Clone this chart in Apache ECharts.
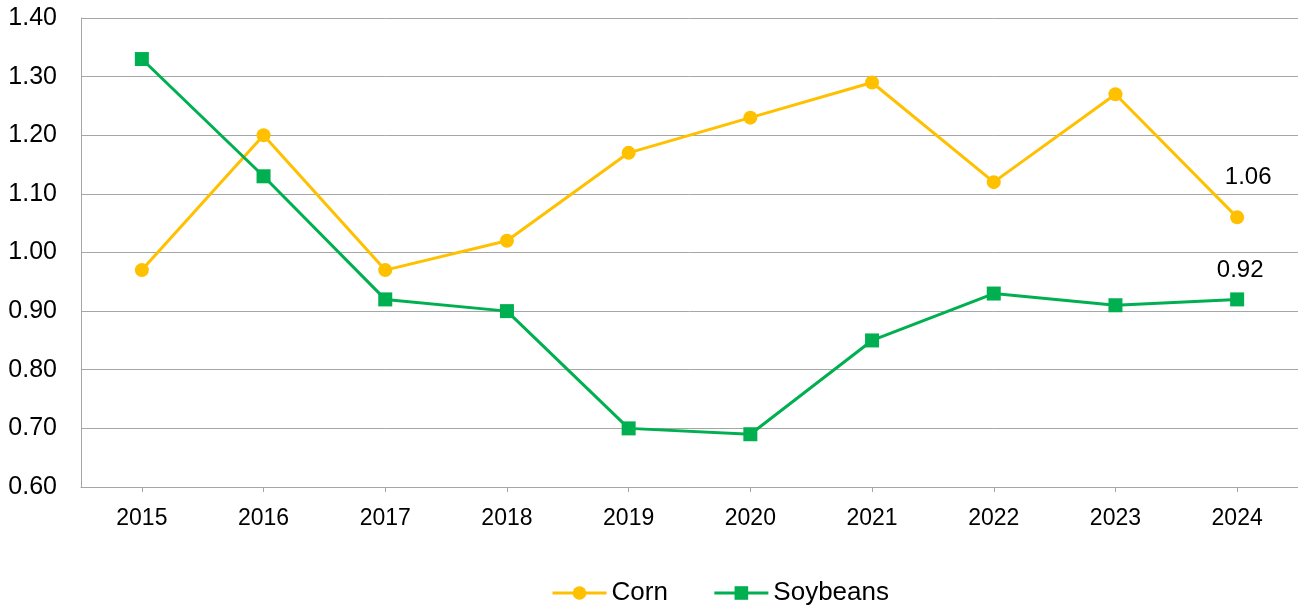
<!DOCTYPE html>
<html><head><meta charset="utf-8">
<script src="https://cdn.jsdelivr.net/npm/echarts@6/dist/echarts.min.js"></script>
<style>html,body{margin:0;padding:0;background:#fff}#c{width:1298px;height:608px}</style>
</head><body><div id="c"></div>
<script>
const years = ['2015','2016','2017','2018','2019','2020','2021','2022','2023','2024'];
const corn = [0.97, 1.20, 0.97, 1.02, 1.17, 1.23, 1.29, 1.12, 1.27, 1.06];
const soybeans = [1.33, 1.13, 0.92, 0.90, 0.70, 0.69, 0.85, 0.93, 0.91, 0.92];
const chart = echarts.init(document.getElementById('c'));
const font = 'Liberation Sans, Arial, sans-serif';
function lastLabel(arr, off){
  return arr.map((v,i)=> i===arr.length-1 ? {value:v, label:{show:true, position:'inside', offset:off, formatter:p=>p.value.toFixed(2), fontSize:24, color:'#000', fontFamily:font}} : v);
}
chart.setOption({
  animation:false,
  grid:{left:81, right:0, top:18, bottom:121},
  legend:{top:575, left:546, itemWidth:54, itemHeight:17, itemGap:45,
    textStyle:{fontSize:26, color:'#000', fontFamily:font},
    lineStyle:{width:3},
    data:['Corn','Soybeans']},
  xAxis:{type:'category', data:years, boundaryGap:true,
    axisLine:{lineStyle:{color:'#a6a6a6', width:1}},
    axisTick:{show:true, alignWithLabel:true, length:5, lineStyle:{color:'#a6a6a6'}},
    axisLabel:{fontSize:23, color:'#000', fontFamily:font, margin:20}},
  yAxis:{type:'value', min:0.6, max:1.4, interval:0.1,
    axisLine:{show:true, lineStyle:{color:'#a6a6a6', width:1}},
    axisTick:{show:false},
    splitLine:{lineStyle:{color:'#a6a6a6', width:1}},
    axisLabel:{fontSize:25, color:'#000', fontFamily:font, margin:24, formatter:v=>v.toFixed(2)}},
  series:[
    {name:'Corn', type:'line', data:lastLabel(corn,[11,-40]), symbol:'circle', symbolSize:14,
      lineStyle:{color:'#FFC000', width:3}, itemStyle:{color:'#FFC000'}},
    {name:'Soybeans', type:'line', data:lastLabel(soybeans,[3,-29]), symbol:'rect', symbolSize:14,
      lineStyle:{color:'#00B050', width:3}, itemStyle:{color:'#00B050'}}
  ]
});
</script></body></html>
